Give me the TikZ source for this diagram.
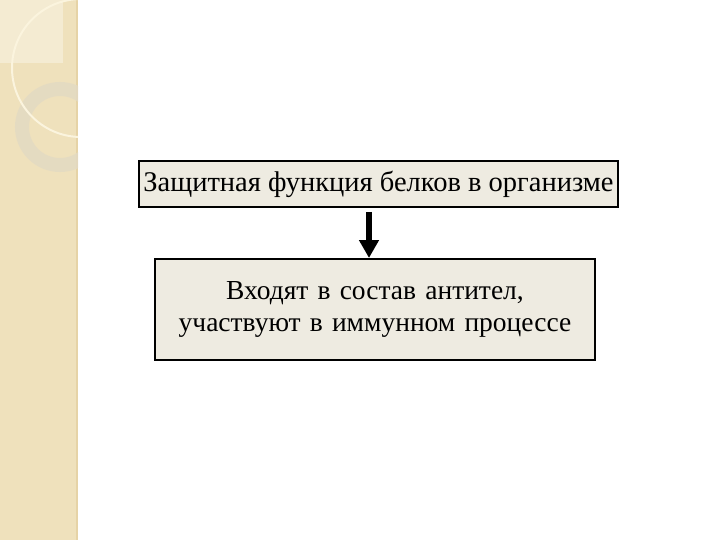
\documentclass[tikz,border=0pt]{standalone}
\usepackage{fontspec}
\setmainfont{Liberation Serif}
\usepackage{tikz}
\usetikzlibrary{arrows.meta,positioning,calc}
\definecolor{stripbg}{HTML}{EFE1BC}
\definecolor{stripedge}{HTML}{E6D3A6}
\definecolor{stripsq}{HTML}{F4EBD2}
\definecolor{ringcol}{HTML}{E3DAC3}
\definecolor{arccol}{HTML}{FBF4DE}
\definecolor{boxfill}{HTML}{EEEBE1}

\begin{document}
\begin{tikzpicture}[x=1pt,y=-1pt]
\tikzset{textbox/.style={
    draw=black, line width=2pt,
    fill=boxfill,
    inner sep=0pt,
    align=center,
    font=\fontsize{28.5}{34}\selectfont
  },
  bigarrow/.style={
    line width=6pt,
    -{Triangle[width=19pt,length=18pt]}
  }
}
\useasboundingbox (0,0) rectangle (720,540);

% left strip
\fill[stripbg] (0,0) rectangle (78,540);
\fill[stripsq] (0,0) rectangle (63,63);
\draw[stripedge, line width=1.5pt] (77,0) -- (77,540);
\begin{scope}
\clip (0,0) rectangle (78,540);
\draw[ringcol, line width=14pt, opacity=0.85] (60,127) circle (38);
\draw[arccol, line width=2pt] (81,68) circle (69);
\end{scope}

\node[textbox, minimum width=479pt, minimum height=46pt] (defense) at (378.5,184)
  {Защитная функция белков в организме};
\node[textbox, minimum width=440pt, minimum height=101pt, text width=440pt,
  font=\fontsize{27.5}{32}\selectfont,
  below=50pt of defense, xshift=-3.5pt] (antibody)
  {Входят в состав антител,\\участвуют в иммунном процессе};

\draw[bigarrow] ([xshift=-9.5pt,yshift=-4pt]defense.south) -- ([xshift=-6pt]antibody.north);

\end{tikzpicture}
\end{document}
